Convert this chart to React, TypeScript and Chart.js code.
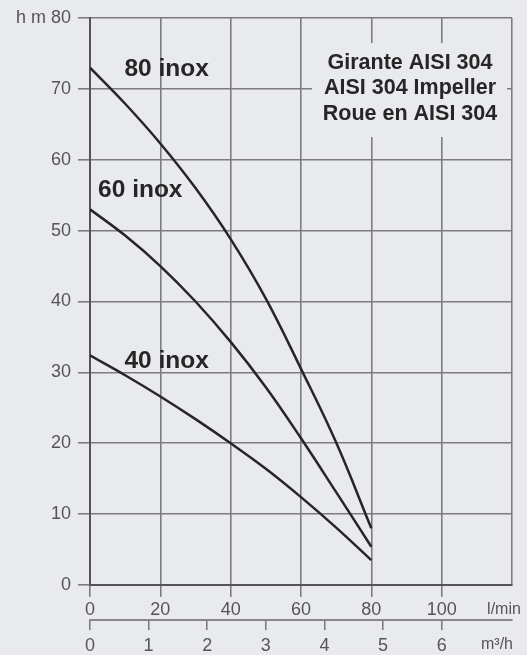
import React, { useEffect, useRef } from "react";
import { Chart, registerables } from "chart.js";

Chart.register(...registerables);

const flowLmin = [0, 10, 20, 30, 40, 50, 60, 70, 80];
const head80 = [73, 67.9, 62.3, 56.0, 48.8, 40.4, 30.5, 20.1, 8.0];
const head60 = [53, 49.3, 45.0, 40.0, 34.3, 27.9, 20.7, 13.1, 5.4];
const head40 = [32.4, 29.6, 26.6, 23.4, 20.0, 16.4, 12.4, 8.1, 3.5];
const seriesNames = ["80 inox", "60 inox", "40 inox"];
const titleLines = ["Girante AISI 304", "AISI 304 Impeller", "Roue en AISI 304"];
const xUnit = "l/min";
const x2Unit = "m³/h";
const yTopLabel = "h m 80";

const FONT = "'Liberation Sans', Arial, sans-serif";
const BG = "#e9eaee";
const INK = "#262626";
const GRID = "#7c7c7c";

export default function App() {
  const ref = useRef<HTMLCanvasElement | null>(null);
  useEffect(() => {
    document.body.style.margin = "0";
    document.body.style.background = BG;
    const mk = (arr: number[]) => flowLmin.map((x, i) => ({ x, y: arr[i] }));
    const annot = {
      id: "annot",
      beforeDatasetsDraw(chart: any) {
        const { ctx, scales } = chart;
        const xs = scales.x;
        const ys = scales.y;
        ctx.save();
        ctx.fillStyle = BG;
        ctx.fillRect(312, 43, 195, 94);
        ctx.fillStyle = INK;
        ctx.textAlign = "center";
        ctx.textBaseline = "middle";
        ctx.font = `bold 21.5px ${FONT}`;
        titleLines.forEach((t, i) => ctx.fillText(t, 410, 63 + i * 25.5));
        ctx.font = `bold 24.5px ${FONT}`;
        const pos = [
          [21.8, 72.8],
          [14.3, 55.7],
          [21.8, 31.5],
        ];
        seriesNames.forEach((n, i) => {
          ctx.fillText(n, xs.getPixelForValue(pos[i][0]), ys.getPixelForValue(pos[i][1]));
        });
        ctx.fillStyle = "#555";
        ctx.font = `16px ${FONT}`;
        ctx.fillText(xUnit, 504, 610);
        ctx.fillText(x2Unit, 497, 645);
        ctx.restore();
      },
    };
    const ds = (label: string, arr: number[]) => ({
      label,
      data: mk(arr),
      borderColor: INK,
      borderWidth: 2.5,
      pointRadius: 0,
      fill: false,
      tension: 0.4,
    });
    const chart = new Chart(ref.current as HTMLCanvasElement, {
      type: "line",
      data: {
        datasets: [ds(seriesNames[0], head80), ds(seriesNames[1], head60), ds(seriesNames[2], head40)],
      },
      plugins: [annot],
      options: {
        animation: false,
        responsive: true,
        maintainAspectRatio: false,
        layout: { padding: { left: 0, right: 15, top: 18, bottom: 0 } },
        plugins: { legend: { display: false }, tooltip: { enabled: false } },
        scales: {
          x: {
            type: "linear",
            position: "bottom",
            min: 0,
            max: 120,
            afterFit: (s: any) => {
              s.height = 35;
            },
            ticks: {
              stepSize: 20,
              padding: 2,
              color: "#555",
              font: { family: FONT, size: 18 },
              callback: (v: any) => (Number(v) > 100 ? "" : String(v)),
              maxRotation: 0,
            },
            grid: {
              color: GRID,
              lineWidth: 1.6,
              tickLength: 12,
              tickColor: (c: any) => (c.tick && c.tick.value > 100 ? "rgba(0,0,0,0)" : GRID),
            },
            border: { display: true, color: "#555", width: 2 },
          },
          x2: {
            type: "linear",
            position: "bottom",
            min: 0,
            max: 7.2,
            afterBuildTicks: (s: any) => {
              s.ticks = s.ticks.filter((t: any) => t.value <= 6);
            },
            afterFit: (s: any) => {
              s.height = 35;
            },
            ticks: {
              stepSize: 1,
              padding: 5,
              color: "#555",
              font: { family: FONT, size: 18 },
              maxRotation: 0,
            },
            grid: { drawOnChartArea: false, color: GRID, lineWidth: 1.6, tickLength: 10 },
            border: { display: true, color: "#888", width: 2 },
          },
          y: {
            type: "linear",
            min: 0,
            max: 80,
            afterFit: (s: any) => {
              s.width = 90;
            },
            ticks: {
              stepSize: 10,
              padding: 7,
              color: "#555",
              font: { family: FONT, size: 18 },
              callback: (v: any) => (Number(v) === 80 ? yTopLabel : String(v)),
            },
            grid: { color: GRID, lineWidth: 1.6, tickLength: 12 },
            border: { display: true, color: "#555", width: 2 },
          },
        },
      },
    });
    return () => chart.destroy();
  }, []);
  return (
    <div style={{ width: 527, height: 655, background: BG, position: "relative" }}>
      <canvas ref={ref} />
    </div>
  );
}
